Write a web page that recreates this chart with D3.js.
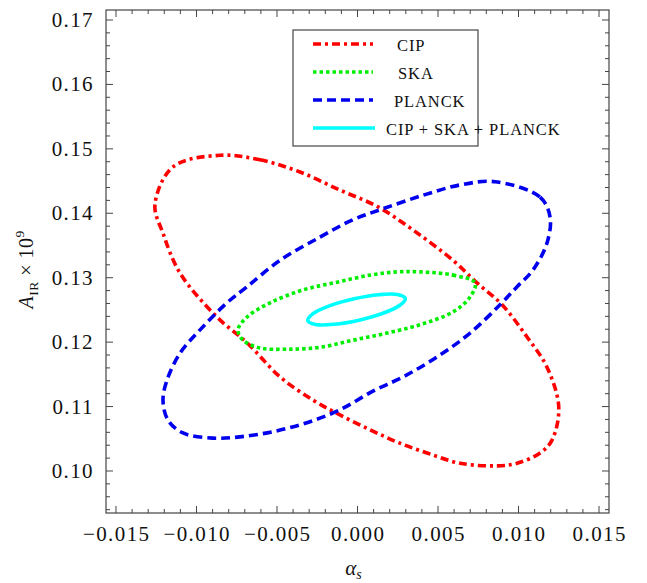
<!DOCTYPE html>
<html>
<head>
<meta charset="utf-8">
<script src="https://cdn.jsdelivr.net/npm/d3@7.9.0/dist/d3.min.js"></script>
<style>
  body { margin: 0; background: #fff; }
  svg text { font-family: "Liberation Serif", "Times New Roman", Times, serif; fill: #111; }
</style>
</head>
<body>
<div id="chart"></div>
<script>
// contour points: [alpha_s, A_IR x 1e9]
const cipPts = [
  [-0.00854, 0.1490], [-0.00606, 0.1483], [-0.00357, 0.1464], [-0.00109, 0.1436],
  [0.00127, 0.1410], [0.00345, 0.1374], [0.00593, 0.1327], [0.00742, 0.1292],
  [0.00898, 0.1258], [0.01053, 0.1208], [0.01177, 0.1161], [0.01250, 0.1099],
  [0.01208, 0.1048], [0.01134, 0.1028], [0.00991, 0.1012], [0.00866, 0.1008],
  [0.00637, 0.1012], [0.00432, 0.1028], [0.00245, 0.1045], [0.00078, 0.1064],
  [-0.00109, 0.1087], [-0.00276, 0.1110], [-0.00481, 0.1146], [-0.00686, 0.1199],
  [-0.00873, 0.1239], [-0.01102, 0.1307], [-0.01208, 0.1369], [-0.01258, 0.1413],
  [-0.01146, 0.1472]
];
const skaPts = [
  [0.00388, 0.1309], [0.00593, 0.1304], [0.00730, 0.1292], [0.00699, 0.1270],
  [0.00593, 0.1247], [0.00388, 0.1227], [0.00183, 0.1214], [-0.00028, 0.1203],
  [-0.00233, 0.1192], [-0.00438, 0.1189], [-0.00606, 0.1191], [-0.00711, 0.1203],
  [-0.00742, 0.1219], [-0.00686, 0.1239], [-0.00543, 0.1261], [-0.00339, 0.1281],
  [-0.00127, 0.1293], [0.00078, 0.1304], [0.00245, 0.1309]
];
const planckPts = [
  [0.00854, 0.1449], [0.01134, 0.1425], [0.01196, 0.1394], [0.01177, 0.1354],
  [0.01090, 0.1312], [0.00991, 0.1286], [0.00885, 0.1258], [0.00699, 0.1214],
  [0.00494, 0.1177], [0.00283, 0.1146], [0.00096, 0.1124], [-0.00109, 0.1095],
  [-0.00314, 0.1075], [-0.00525, 0.1061], [-0.00730, 0.1053], [-0.00898, 0.1051],
  [-0.01084, 0.1059], [-0.01177, 0.1079], [-0.01208, 0.1110], [-0.01183, 0.1141],
  [-0.01102, 0.1183], [-0.00978, 0.1219], [-0.00811, 0.1261], [-0.00686, 0.1286],
  [-0.00481, 0.1327], [-0.00233, 0.1363], [-0.00028, 0.1390], [0.00158, 0.1407],
  [0.00407, 0.1428], [0.00637, 0.1444]
];
const combPts = [
  [0.00297, 0.12677], [0.00263, 0.12572], [0.00158, 0.12448], [0.00009, 0.12341],
  [-0.00145, 0.12277], [-0.00261, 0.12275], [-0.00309, 0.12335], [-0.00276, 0.12441],
  [-0.00171, 0.12566], [-0.00021, 0.12673], [0.00132, 0.12736], [0.00248, 0.12738]
];

const seriesNames = ["CIP", "SKA", "PLANCK", "CIP + SKA + PLANCK"];
const xTicks = [-0.015, -0.010, -0.005, 0.000, 0.005, 0.010, 0.015];
const yTicks = [0.10, 0.11, 0.12, 0.13, 0.14, 0.15, 0.16, 0.17];

// styles per series
const styles = [
  { pts: cipPts, color: "#ff0000", dash: "8,4,3,4" },
  { pts: skaPts, color: "#00ee00", dash: "3.5,3" },
  { pts: planckPts, color: "#0000ee", dash: "9,5" },
  { pts: combPts, color: "#00ffff", dash: null }
];

const W = 647, H = 583;
const margin = { top: 10, right: 38, bottom: 70, left: 106 };
const innerW = W - margin.left - margin.right;
const innerH = H - margin.top - margin.bottom;

const svg = d3.select("#chart").append("svg")
  .attr("width", W).attr("height", H)
  .attr("font-family", "'Liberation Serif', 'Times New Roman', serif");
const g = svg.append("g")
  .attr("transform", `translate(${margin.left},${margin.top})`);

const x = d3.scaleLinear().domain([-0.01562, 0.01562]).range([0, innerW]);
const y = d3.scaleLinear().domain([0.09348, 0.17155]).range([innerH, 0]);

// contours
const line = d3.line()
  .x(d => x(d[0])).y(d => y(d[1]))
  .curve(d3.curveCatmullRomClosed.alpha(0.5));

styles.forEach(s => {
  g.append("path")
    .attr("d", line(s.pts))
    .attr("fill", "none")
    .attr("stroke", s.color)
    .attr("stroke-width", 3.6)
    .attr("stroke-dasharray", s.dash);
});

// frame
g.append("rect")
  .attr("width", innerW).attr("height", innerH)
  .attr("fill", "none").attr("stroke", "#444").attr("stroke-width", 1.2);

// ticks on all four sides (inside)
const xMinor = d3.range(-15, 16).map(v => v / 1000);
const yMinor = d3.range(47, 86).map(v => v / 500);
const tickCol = "#444";
xMinor.forEach(v => {
  const major = xTicks.some(t => Math.abs(t - v) < 1e-9);
  const len = major ? 7 : 4;
  g.append("line").attr("x1", x(v)).attr("x2", x(v)).attr("y1", innerH).attr("y2", innerH - len).attr("stroke", tickCol);
  g.append("line").attr("x1", x(v)).attr("x2", x(v)).attr("y1", 0).attr("y2", len).attr("stroke", tickCol);
});
yMinor.forEach(v => {
  const major = yTicks.some(t => Math.abs(t - v) < 1e-9);
  const len = major ? 7 : 4;
  g.append("line").attr("y1", y(v)).attr("y2", y(v)).attr("x1", 0).attr("x2", len).attr("stroke", tickCol);
  g.append("line").attr("y1", y(v)).attr("y2", y(v)).attr("x1", innerW).attr("x2", innerW - len).attr("stroke", tickCol);
});

// tick labels
const fmtX = v => (v < 0 ? "\u2212" : "") + d3.format(".3f")(Math.abs(v));
g.selectAll("text.xl").data(xTicks).join("text")
  .attr("class", "xl")
  .attr("x", d => x(d) + 0.7).attr("y", innerH + 28)
  .attr("text-anchor", "middle")
  .style("font-size", "21px")
  .style("letter-spacing", "1.4px")
  .text(fmtX);
g.selectAll("text.yl").data(yTicks).join("text")
  .attr("class", "yl")
  .attr("x", -12).attr("y", d => y(d))
  .attr("text-anchor", "end")
  .attr("dominant-baseline", "central")
  .style("font-size", "21px")
  .style("letter-spacing", "1.4px")
  .text(d3.format(".2f"));

// axis titles
const xt = svg.append("text")
  .attr("x", margin.left + x(0) - 4).attr("y", 575)
  .attr("text-anchor", "middle")
  .style("font-size", "21px");
xt.append("tspan").style("font-style", "italic").text("\u03b1");
xt.append("tspan").style("font-style", "italic").style("font-size", "14px").attr("dy", 4).text("s");

const yt = svg.append("text")
  .attr("transform", `translate(33,${margin.top + y(0.1313)}) rotate(-90)`)
  .attr("text-anchor", "middle")
  .style("font-size", "20px")
  .style("letter-spacing", "0.5px");
yt.append("tspan").style("font-style", "italic").text("A");
yt.append("tspan").style("font-size", "13.5px").attr("dy", 5).text("IR");
yt.append("tspan").attr("dy", -5).text(" \u00d7 10");
yt.append("tspan").style("font-size", "13.5px").attr("dy", -9).text("9");

// legend
const lg = svg.append("g").attr("transform", "translate(293,30)");
lg.append("rect").attr("width", 185).attr("height", 116)
  .attr("fill", "#fff").attr("stroke", "#444").attr("stroke-width", 1.2);
const labelX = [104, 105, 101, 93];
styles.forEach((s, i) => {
  const ry = 14 + i * 28;
  lg.append("line")
    .attr("x1", 20).attr("x2", i === 3 ? 82 : 80)
    .attr("y1", ry).attr("y2", ry)
    .attr("stroke", s.color).attr("stroke-width", 3.6)
    .attr("stroke-dasharray", s.dash);
  lg.append("text")
    .attr("x", labelX[i]).attr("y", ry + 1)
    .attr("dominant-baseline", "central")
    .style("font-size", "16.5px")
    .style("letter-spacing", "0.9px")
    .text(seriesNames[i]);
});
</script>
</body>
</html>
